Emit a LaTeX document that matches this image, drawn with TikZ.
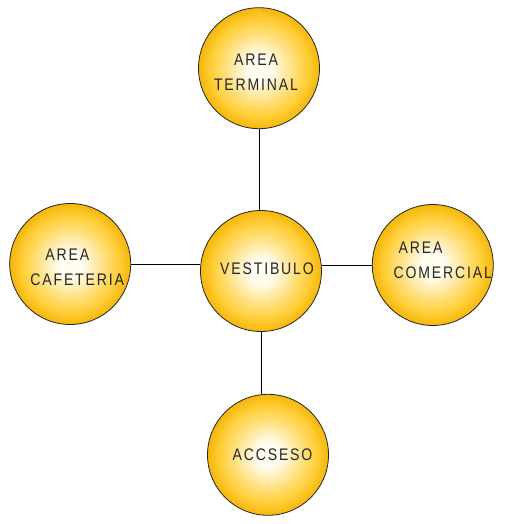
\documentclass[tikz,border=0pt]{standalone}
\usepackage{fontspec}
\newfontfamily\plan[FakeStretch=0.84, LetterSpace=11]{Liberation Sans}
\usetikzlibrary{positioning}
\definecolor{gold}{RGB}{245,182,10}
\definecolor{goldmid}{RGB}{255,206,55}
\definecolor{cream}{RGB}{255,252,240}
\pgfdeclareradialshading{glow}{\pgfpoint{0bp}{0bp}}{color(0bp)=(cream); color(5bp)=(cream); color(13bp)=(goldmid!55!cream); color(20bp)=(goldmid); color(25bp)=(gold); color(50bp)=(gold)}
\tikzstyle{zone}=[circle, draw=black!85, line width=0.8bp, shading=glow, minimum size=121bp, inner sep=0pt]
\tikzstyle{tag}=[font=\plan\fontsize{16.8}{25.5}\selectfont, inner sep=0pt, text=black!85]
\tikzstyle{link}=[line width=0.8bp, black]

\begin{document}
\begin{tikzpicture}[x=1bp, y=1bp]
    \useasboundingbox (0,0) rectangle (518,-524);

    \node (vest) [zone] at (261,-271) {};
    \node (term) [zone, above=81bp of vest, xshift=-2bp] {};
    \node (caf) [zone, left=69bp of vest, yshift=7bp] {};
    \node (com) [zone, right=50bp of vest, yshift=6bp] {};
    \node (acc) [zone, below=62bp of vest, xshift=7bp] {};

% names
    \node (vesttxt) [tag, xshift=6bp, yshift=2.5bp] at (vest) {VESTIBULO};
    \node (termtxt) [tag, align=center, xshift=-3bp, yshift=-4bp] at (term) {AREA\\TERMINAL};
    \node (caftxt) [tag, align=left, xshift=7bp, yshift=-3.5bp] at (caf) {\hspace{15bp}AREA\\CAFETERIA};
    \node (comtxt) [tag, align=left, xshift=10bp, yshift=4.5bp] at (com) {\hspace{5bp}AREA\\COMERCIAL};
    \node (acctxt) [tag, xshift=4.5bp, yshift=0.5bp] at (acc) {ACCSESO};

% lines
   \draw[link] (term.south) -- (term.south |- vest.north);
   \draw[link] (caf.east) -- (caf.east -| vest.west);
   \draw[link] (com.west) -- (com.west -| vest.east);
   \draw[link] (vest.south) -- (vest.south |- acc.north);
\end{tikzpicture}
\end{document}
